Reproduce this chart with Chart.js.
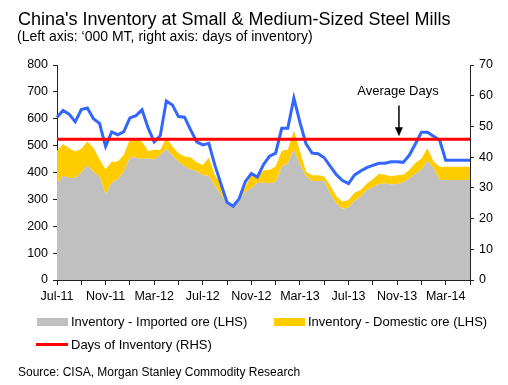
<!DOCTYPE html>
<html>
<head>
<meta charset="utf-8">
<script src="https://cdn.jsdelivr.net/npm/chart.js@4/dist/chart.umd.min.js"></script>
<style>
  html, body { margin: 0; padding: 0; background: #fff; }
  body { width: 508px; height: 385px; position: relative; overflow: hidden;
         font-family: Arial, "Liberation Sans", sans-serif; color: #000; }
  #wrap { position: absolute; left: 0; top: 0; width: 508px; height: 385px; }
  .txt { position: absolute; white-space: nowrap; line-height: 1; }
  .sw { position: absolute; }
</style>
</head>
<body>
<div id="wrap"><canvas id="steelChart" width="508" height="385"></canvas></div>
<div class="txt" style="left:18px; top:10px; font-size:18px;">China's Inventory at Small &amp; Medium-Sized Steel Mills</div>
<div class="txt" style="left:17px; top:29px; font-size:14px;">(Left axis: ‘000 MT, right axis: days of inventory)</div>

<div class="sw" style="left:37px; top:318px; width:31px; height:8px; background:#c0c0c0;"></div>
<div class="txt" style="left:71px; top:315px; font-size:13px;">Inventory - Imported ore (LHS)</div>
<div class="sw" style="left:274px; top:318px; width:31px; height:8px; background:#ffcc00;"></div>
<div class="txt" style="left:308px; top:315px; font-size:13px;">Inventory - Domestic ore (LHS)</div>
<div class="sw" style="left:36px; top:343px; width:32px; height:3px; background:#ff0000;"></div>
<div class="txt" style="left:71px; top:338px; font-size:13px;">Days of Inventory (RHS)</div>

<div class="txt" style="left:18px; top:366px; font-size:12px;">Source: CISA, Morgan Stanley Commodity Research</div>

<script>
// half-monthly points, Jul-11 .. May-14
const monthNames = ['Jan','Feb','Mar','Apr','May','Jun','Jul','Aug','Sep','Oct','Nov','Dec'];
const periods = [];
for (let i = 0; i < 69; i++) {
    const m = 6 + Math.floor(i / 2);
    const name = monthNames[m % 12] + '-' + (11 + Math.floor(m / 12));
    periods.push(i % 2 === 0 ? name : name + ' (2)');
}
const tickEvery = 8;   // label every 4 months
const markEvery = 4;   // tick mark every 2 months

// '000 MT
const importedOre = [360, 388, 380, 380, 400, 428, 402, 385, 318, 362,
                     375, 403, 456, 455, 450, 452, 448, 465, 487, 463,
                     440, 423, 412, 404, 390, 388, 350, 318, 285, 272,
                     298, 328, 341, 361, 363, 360, 364, 422, 434, 485,
                     430, 386, 368, 368, 368, 320, 285, 265, 270, 295,
                     310, 334, 345, 357, 359, 356, 357, 363, 378, 395,
                     410, 444, 416, 372, 372, 372, 372, 372, 372];
const domesticOre = [120, 118, 110, 98, 88, 87, 90, 65, 94, 78,
                     66, 62, 69, 68, 65, 28, 37, 19, 43, 34,
                     33, 37, 45, 34, 38, 67, 40, 37, 11, 3,
                     8, 19, 51, 27, 44, 50, 58, 59, 51, 71,
                     50, 17, 22, 22, 17, 32, 27, 27, 28, 30,
                     25, 25, 30, 38, 33, 30, 33, 29, 31, 40,
                     42, 46, 25, 49, 49, 49, 49, 49, 49];
// days of inventory
const inventoryDays = [53, 55.2, 54, 51.5, 55.5, 56, 52.5, 51, 43.5, 48.2,
                       47.3, 48.3, 52.8, 53.5, 55.4, 49.5, 45, 47, 58.3, 57,
                       53.2, 53, 48.9, 45, 44, 44.5, 37.3, 31.3, 25.3, 24,
                       26.5, 32, 34.7, 33.5, 37.6, 40.3, 41.3, 49.4, 49.4, 59.2,
                       51.3, 44.3, 41.3, 41.1, 39.8, 37, 34.3, 32.4, 31.4, 34.2,
                       35.5, 36.6, 37.3, 38, 38, 38.5, 38.5, 38.3, 40.6, 44.3,
                       48.1, 48.1, 46.8, 45.5, 39, 39, 39, 39, 39];
const averageDays = 45.8;

// top of the yellow band = imported + domestic
const totalOre = importedOre.map((v, i) => v + domesticOre[i]);

// "Average Days" note with arrow
const avgNote = {
    id: 'avgNote',
    afterDatasetsDraw(chart) {
        const { ctx, scales } = chart;
        const px = scales.x.getPixelForValue(56.3);
        const y1 = scales.y1;
        ctx.save();
        ctx.fillStyle = '#000';
        ctx.strokeStyle = '#000';
        ctx.font = '13px Arial, "Liberation Sans", sans-serif';
        ctx.textAlign = 'center';
        ctx.textBaseline = 'alphabetic';
        ctx.fillText('Average Days', px - 1, y1.getPixelForValue(60.2));
        const top = y1.getPixelForValue(56.8);
        const tip = y1.getPixelForValue(46.8);
        ctx.lineWidth = 1.5;
        ctx.beginPath();
        ctx.moveTo(px, top);
        ctx.lineTo(px, tip - 6);
        ctx.stroke();
        ctx.beginPath();
        ctx.moveTo(px - 4, tip - 9);
        ctx.lineTo(px + 4, tip - 9);
        ctx.lineTo(px, tip);
        ctx.closePath();
        ctx.fill();
        ctx.restore();
    }
};

Chart.defaults.font.family = 'Arial, "Liberation Sans", sans-serif';
Chart.defaults.color = '#000';

const ctx = document.getElementById('steelChart').getContext('2d');
new Chart(ctx, {
    type: 'line',
    data: {
        labels: periods,
        datasets: [
            {
                label: 'Days of Inventory (RHS)',
                data: periods.map(() => averageDays),
                yAxisID: 'y1',
                borderColor: '#ff0000',
                borderWidth: 3,
                pointRadius: 0,
                fill: false
            },
            {
                label: 'Days',
                data: inventoryDays,
                yAxisID: 'y1',
                borderColor: '#3366ff',
                borderWidth: 3,
                pointRadius: 0,
                fill: false
            },
            {
                label: 'Inventory - Imported ore (LHS)',
                data: importedOre,
                yAxisID: 'y',
                backgroundColor: '#c0c0c0',
                borderWidth: 0,
                pointRadius: 0,
                fill: 'origin'
            },
            {
                label: 'Inventory - Domestic ore (LHS)',
                data: totalOre,
                yAxisID: 'y',
                backgroundColor: '#ffcc00',
                borderWidth: 0,
                pointRadius: 0,
                fill: 2
            }
        ]
    },
    options: {
        responsive: false,
        animation: false,
        devicePixelRatio: 1,
        layout: { padding: { top: 65, bottom: 75, left: 0, right: 0 } },
        plugins: {
            legend: { display: false },
            title: { display: false },
            tooltip: { enabled: false }
        },
        elements: { line: { tension: 0 } },
        scales: {
            x: {
                type: 'category',
                offset: false,
                afterFit: s => { s.height = 30; },
                border: { display: true, color: '#222', width: 1 },
                grid: {
                    drawOnChartArea: false,
                    tickLength: 5,
                    color: c => (c.index % markEvery === 0 || c.index === periods.length - 1) ? '#222' : 'rgba(0,0,0,0)'
                },
                ticks: {
                    autoSkip: false,
                    maxRotation: 0,
                    minRotation: 0,
                    padding: 4,
                    font: { size: 12.5 },
                    callback: function (v, i) { return i % tickEvery === 0 ? this.getLabelForValue(v) : ''; }
                }
            },
            y: {
                position: 'left',
                min: 0,
                max: 800,
                afterFit: s => { s.width = 57; },
                border: { display: true, color: '#222', width: 1 },
                grid: { drawOnChartArea: false, tickLength: 4, color: '#222' },
                ticks: { stepSize: 100, padding: 5, font: { size: 12.5 } }
            },
            y1: {
                position: 'right',
                min: 0,
                max: 70,
                afterFit: s => { s.width = 38; },
                border: { display: true, color: '#222', width: 1 },
                grid: { drawOnChartArea: false, tickLength: 4, color: '#222' },
                ticks: { stepSize: 10, padding: 5, font: { size: 12.5 } }
            }
        }
    },
    plugins: [avgNote]
});
</script>
</body>
</html>
